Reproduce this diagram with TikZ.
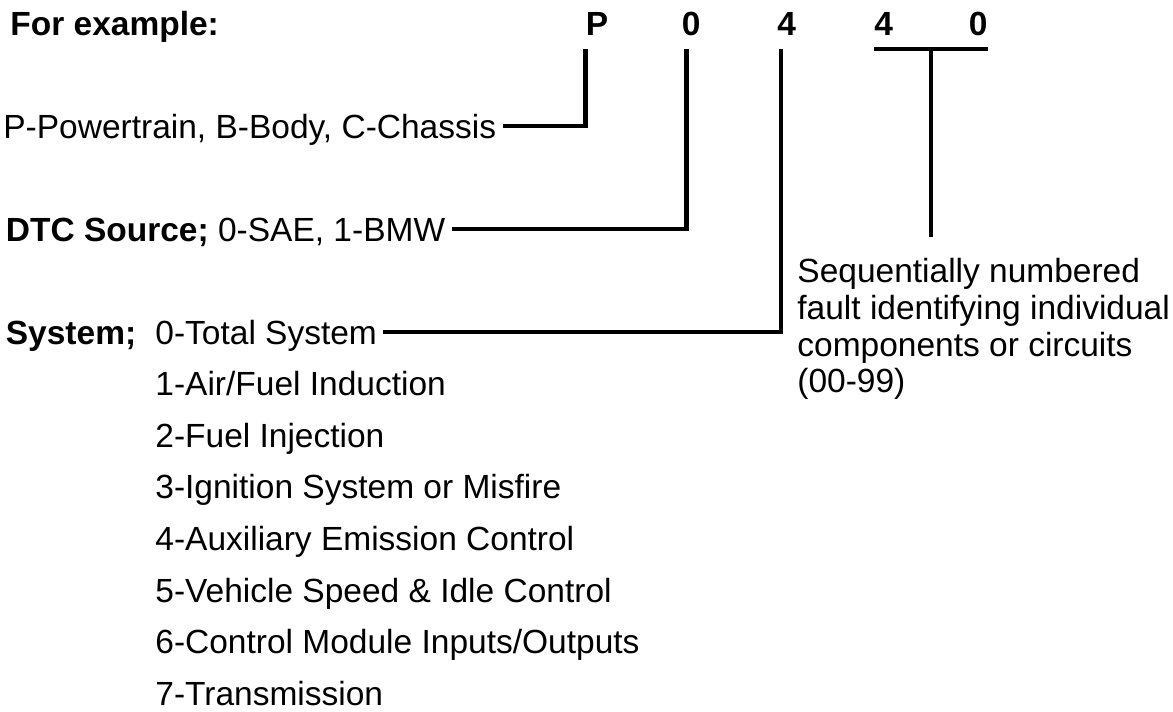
\documentclass[tikz,border=0pt]{standalone}
\usepackage{fontspec}
\setmainfont{Liberation Sans}
\usetikzlibrary{positioning}

\begin{document}
\begin{tikzpicture}[
  x=0.5pt, y=-0.5pt,
  node distance=13.4pt,
  lbl/.style={inner xsep=3pt, inner ysep=0pt, text height=12pt, text depth=0pt, anchor=base west, font=\fontsize{16.75}{18.35}\selectfont},
  digit/.style={inner sep=0pt, anchor=base west, font=\fontsize{16.75}{18.35}\selectfont\bfseries},
  note/.style={inner sep=0pt, anchor=north west, align=left, font=\fontsize{16.75}{18.35}\selectfont},
  conn/.style={line width=2.3pt}
]
\useasboundingbox (0,0) rectangle (1173,712);

% code digits
\node[lbl, font=\fontsize{16.75}{18.35}\selectfont\bfseries] (title) at (4,35) {For example:};
\node[digit] (dP) at (585.5,35) {P};
\node[digit] (dSrc) at (681.5,35) {0};
\node[digit] (dSys) at (777,35) {4};
\node[digit] (dF1) at (874,35) {4};
\node[digit] (dF2) at (968.5,35) {0};

% descriptions
\node[lbl] (group) at (-3,138) {P-Powertrain, B-Body, C-Chassis};
\node[lbl] (src) at (-0.5,241) {\textbf{DTC Source;} 0-SAE, 1-BMW};
\node[lbl, font=\fontsize{16.75}{18.35}\selectfont\bfseries] (sysl) at (-0.5,344) {System;};
\node[lbl] (s0) at (149,344) {0-Total System};
\node[lbl, below=of s0.south west, anchor=north west] (s1) {1-Air/Fuel Induction};
\node[lbl, below=of s1.south west, anchor=north west] (s2) {2-Fuel Injection};
\node[lbl, below=of s2.south west, anchor=north west] (s3) {3-Ignition System or Misfire};
\node[lbl, below=of s3.south west, anchor=north west] (s4) {4-Auxiliary Emission Control};
\node[lbl, below=of s4.south west, anchor=north west] (s5) {5-Vehicle Speed \& Idle Control};
\node[lbl, below=of s5.south west, anchor=north west] (s6) {6-Control Module Inputs/Outputs};
\node[lbl, below=of s6.south west, anchor=north west] (s7) {7-Transmission};
\node[note] (fault) at (797,258) {Sequentially numbered\\fault identifying individual\\components or circuits\\(00-99)};

% leader lines
\draw[conn] (group.east) -| ([yshift=-7pt]dP.base west);
\draw[conn] (src.east) -| ([shift={(2.5pt,-7pt)}]dSrc.base west);
\draw[conn] (s0.east) -| ([shift={(2pt,-7pt)}]dSys.base west);
\draw[conn] ([yshift=-7pt]dF1.base west) -- coordinate[pos=0.5] (bmid) ([yshift=-7pt]dF2.base east);
\draw[conn] (bmid) -- ++(0,188);
\end{tikzpicture}
\end{document}
